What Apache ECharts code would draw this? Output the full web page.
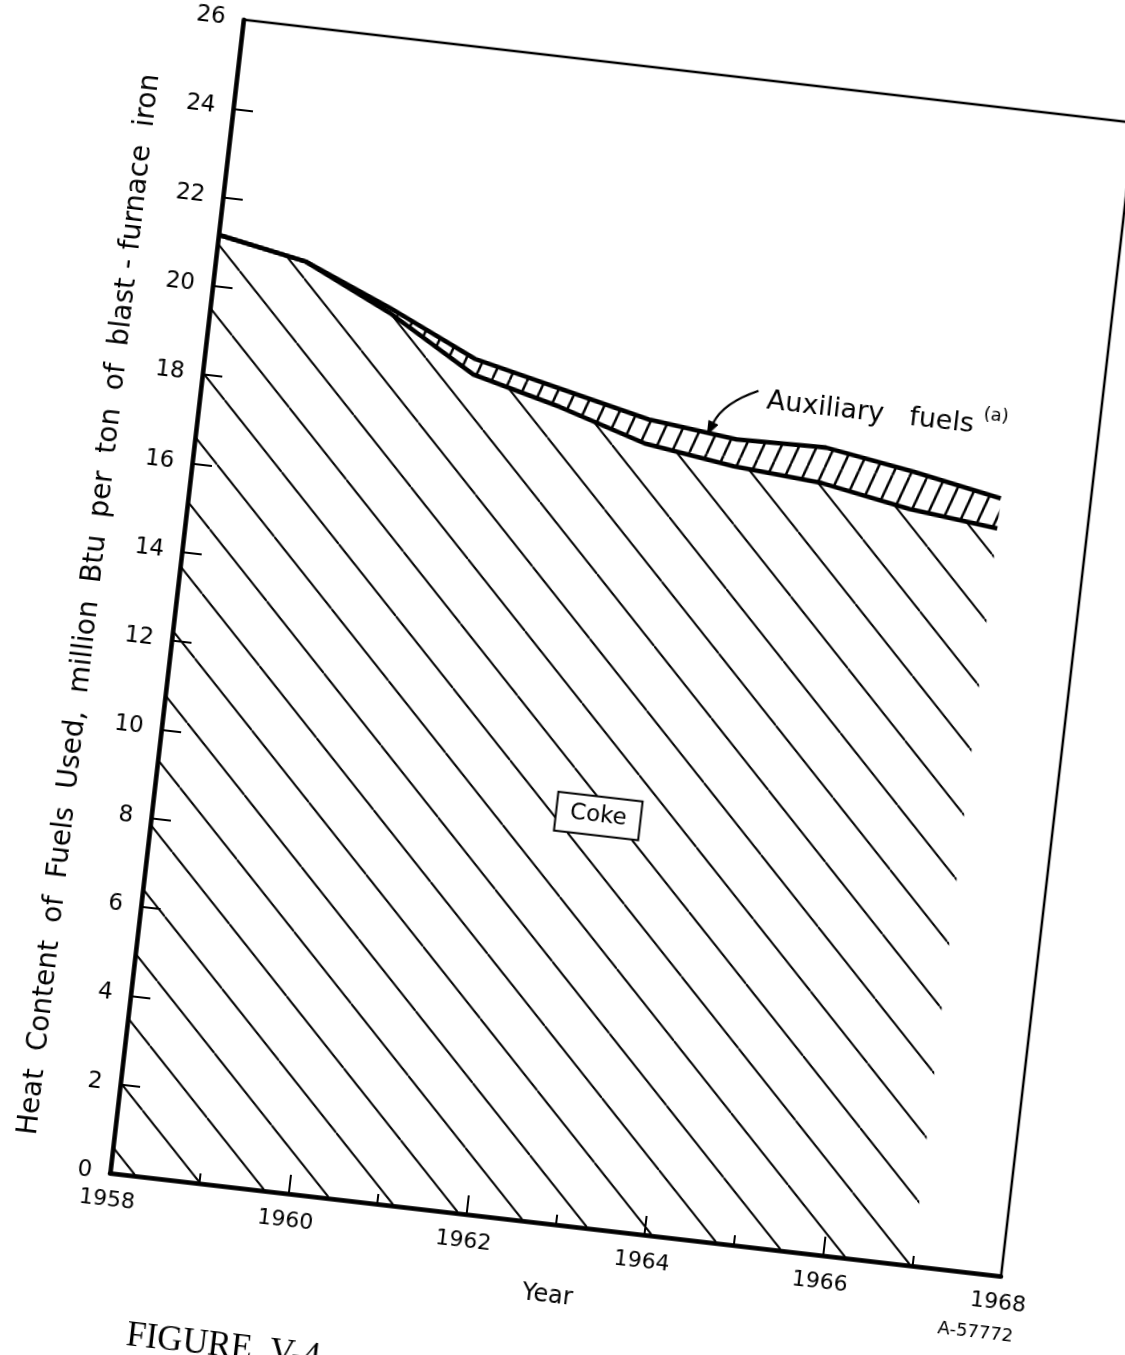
<!DOCTYPE html>
<html><head><meta charset="utf-8">
<script src="https://cdn.jsdelivr.net/npm/echarts@6/dist/echarts.min.js"></script>
<style>
html,body{margin:0;padding:0;background:#fff;width:1125px;height:1355px;overflow:hidden;position:relative}
#chart{position:absolute;left:-60px;top:-18px;width:1107px;height:1391px;transform-origin:170px 1191px;transform:rotate(6.6deg)}
</style></head><body><div id="chart"></div>
<script>
// ---- data ----
const years = [1958, 1959, 1960, 1961, 1962, 1963, 1964, 1965, 1966, 1967];
const totalValues = [21.15, 20.78, 19.96, 19.05, 18.60, 18.15, 17.93, 17.98, 17.67, 17.30]; // coke + auxiliary fuels
const cokeValues  = [21.15, 20.78, 19.85, 18.70, 18.20, 17.60, 17.33, 17.18, 16.83, 16.62];
const yearTickLabels = ['1958', '1960', '1962', '1964', '1966', '1968'];
const valueTickLabels = ['0','2','4','6','8','10','12','14','16','18','20','22','24','26'];
const yTitle = 'Heat  Content  of  Fuels  Used,  million  Btu  per  ton  of  blast - furnace  iron';
const xTitle = 'Year';
// annotation anchor points (data space)
const auxLabelAt = [1964.28, 18.94];
const arrowFrom = [1964.18, 19.07];
const arrowTo = [1963.67, 17.97];
const cokeLabelAt = [1962.95, 9.2];

// ---- hatch patterns ----
function tile(w, h, lw, segs) {
  const c = document.createElement('canvas');
  c.width = w; c.height = h;
  const g = c.getContext('2d');
  g.strokeStyle = '#000'; g.lineWidth = lw; g.lineCap = 'butt';
  segs.forEach(s => { g.beginPath(); g.moveTo(s[0], s[1]); g.lineTo(s[2], s[3]); g.stroke(); });
  return c;
}
const T = 65;
const cokeTile = tile(T, T, 2, [[0, 20 - T, T, 20], [0, 20, T, 20 + T], [-T, 20, 0, 20 + T]]);
const P = 17, H = 51;
const auxTile = tile(P, H, 2.5, [[-P, H, 0, 0], [0, H, P, 0], [P, H, 2 * P, 0]]);

const FONT = 'DejaVu Sans';
const chart = echarts.init(document.getElementById('chart'), null, {renderer: 'canvas'});
chart.setOption({
  animation: false,
  backgroundColor: 'transparent',
  grid: {left: 170, top: 30, width: 897, height: 1161, show: true, borderColor: '#000', borderWidth: 2.5, backgroundColor: 'transparent'},
  xAxis: {
    type: 'value', min: 1958, max: 1968, interval: 2, z: 5,
    axisLine: {show: true, lineStyle: {color: '#000', width: 4.5}},
    axisTick: {show: true, inside: true, length: 19, lineStyle: {color: '#000', width: 2}},
    minorTick: {show: true, splitNumber: 2, length: 10, lineStyle: {color: '#000', width: 2}},
    splitLine: {show: false}, minorSplitLine: {show: false},
    axisLabel: {margin: 16, fontSize: 22, color: '#000', fontFamily: FONT,
      formatter: v => yearTickLabels[Math.round((v - 1958) / 2)]},
    name: xTitle, nameLocation: 'middle', nameGap: 60,
    nameTextStyle: {fontSize: 24, color: '#000', fontFamily: FONT}
  },
  yAxis: {
    type: 'value', min: 0, max: 26, interval: 2, z: 5,
    axisLine: {show: true, lineStyle: {color: '#000', width: 4.5}},
    axisTick: {show: true, inside: true, length: 20, lineStyle: {color: '#000', width: 2}},
    splitLine: {show: false},
    axisLabel: {margin: 18, fontSize: 23, color: '#000', fontFamily: FONT,
      formatter: v => valueTickLabels[Math.round(v / 2)]},
    name: yTitle, nameLocation: 'middle', nameGap: 71,
    nameTextStyle: {fontSize: 28, color: '#000', fontFamily: FONT, padding: [0, 36, 0, 0]}
  },
  series: [
    {
      // auxiliary-fuels band between the coke line and the total line
      name: 'Auxiliary fuels band', type: 'custom', z: 2, silent: true,
      data: [[1958, 0]],
      renderItem: (params, api) => {
        const top = years.map((y, i) => api.coord([y, totalValues[i]]));
        const bot = years.map((y, i) => api.coord([y, cokeValues[i]])).reverse();
        return {type: 'polygon', shape: {points: top.concat(bot)},
          style: {fill: {image: auxTile, repeat: 'repeat'}, stroke: null}};
      }
    },
    {
      name: 'Coke', type: 'line', symbol: 'none', z: 3,
      data: years.map((y, i) => [y, cokeValues[i]]),
      lineStyle: {color: '#000', width: 4.5},
      areaStyle: {color: {image: cokeTile, repeat: 'repeat'}, opacity: 1},
      markPoint: {
        symbol: 'rect', symbolSize: 1, itemStyle: {color: 'rgba(0,0,0,0)'},
        data: [{coord: cokeLabelAt, name: 'Coke'}],
        label: {show: true, position: 'inside', formatter: 'Coke', color: '#000', fontSize: 23,
          fontFamily: FONT, backgroundColor: '#fff', borderColor: '#000', borderWidth: 2, padding: [8, 13, 6, 13]}
      }
    },
    {
      name: 'Total', type: 'line', symbol: 'none', z: 4,
      data: years.map((y, i) => [y, totalValues[i]]),
      lineStyle: {color: '#000', width: 4.5},
      markPoint: {
        symbol: 'rect', symbolSize: 1, itemStyle: {color: 'rgba(0,0,0,0)'},
        data: [{coord: auxLabelAt, name: 'Auxiliary fuels'}],
        label: {show: true, position: 'right', distance: 0, color: '#000',
          formatter: '{a|Auxiliary   fuels}{b| (a)}',
          rich: {a: {fontSize: 27, fontFamily: FONT, color: '#000', verticalAlign: 'bottom'},
                 b: {fontSize: 18, fontFamily: FONT, color: '#000', verticalAlign: 'bottom', padding: [0, 0, 16, 3]}}}
      }
    },
    {
      // curved leader arrow from the label to the band
      name: 'Arrow', type: 'custom', z: 6, silent: true,
      data: [[1958, 0]],
      renderItem: (params, api) => {
        const s = api.coord(arrowFrom), e = api.coord(arrowTo);
        const cp = [e[0] + 0.27 * (s[0] - e[0]), e[1] + 0.68 * (s[1] - e[1])];
        const dx = e[0] - cp[0], dy = e[1] - cp[1], L = Math.hypot(dx, dy);
        const ux = dx / L, uy = dy / L, len = 13, w = 5;
        const b = [e[0] - ux * len, e[1] - uy * len];
        return {type: 'group', children: [
          {type: 'bezierCurve', shape: {x1: s[0], y1: s[1], x2: b[0], y2: b[1], cpx1: cp[0], cpy1: cp[1]},
            style: {stroke: '#000', lineWidth: 2.2, fill: null}},
          {type: 'polygon', shape: {points: [e, [b[0] - uy * w, b[1] + ux * w], [b[0] + uy * w, b[1] - ux * w]]},
            style: {fill: '#000', stroke: '#000', lineWidth: 1}}
        ]};
      }
    }
  ],
  graphic: [
    {type: 'text', left: 1010, top: 1241, style: {text: 'A-57772', fontSize: 18, fontFamily: FONT, fill: '#000'}},
    {type: 'text', left: 205, top: 1333, style: {text: 'FIGURE  V-4', fontSize: 35, fontFamily: 'Liberation Serif', fill: '#000'}}
  ]
});
</script></body></html>
